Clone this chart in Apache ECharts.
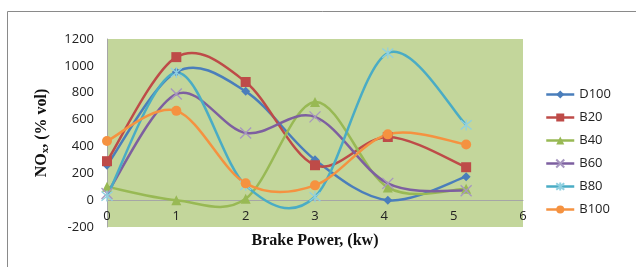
<!DOCTYPE html>
<html lang="en">
<head>
    <meta charset="UTF-8">
    <title>NOx vs Brake Power</title>
    <script src="https://cdn.jsdelivr.net/npm/echarts@6/dist/echarts.min.js" type="text/javascript"></script>
</head>
<body style="margin:0;background:#fff;">
<div id="nox_chart" style="width:636px;height:267px;"></div>
<script>
    // brake power (kw) for each load step
    var power = [0, 1, 2, 3, 4.05, 5.18];
    var seriesNames = ['D100', 'B20', 'B40', 'B60', 'B80', 'B100'];
    var d100 = [260, 955, 810, 300, 0, 175];
    var b20 = [290, 1065, 880, 260, 470, 245];
    var b40 = [100, 0, 10, 730, 95, 85];
    var b60 = [50, 790, 500, 620, 125, 70];
    var b80 = [30, 950, 110, 25, 1095, 560];
    var b100 = [440, 665, 125, 110, 490, 415];
    var xTicks = ['0', '1', '2', '3', '4', '5', '6'];

    var colors = ['#4a7ebb', '#be4b48', '#98b954', '#7d5fa0', '#4aacc5', '#f59240'];
    var markColors = ['#4a7ebb', '#be4b48', '#98b954', '#a796c0', '#8fd0e0', '#f59240'];
    var symbols = ['diamond', 'rect', 'triangle',
        'path://M0,0L10,10M10,0L0,10',
        'path://M0,0L10,10M10,0L0,10M5,-1L5,11',
        'circle'];
    var sizes = [9, 10, 10, 11, 11, 10];
    var allData = [d100, b20, b40, b60, b80, b100];

    function pairs(ys) {
        var out = [];
        for (var i = 0; i < power.length; i++) {
            out.push([power[i], ys[i]]);
        }
        return out;
    }

    // excel style smooth curve: one bezier segment per pair of points (catmull-rom)
    function curveRenderer(ys, color) {
        return function (params, api) {
            var i = params.dataIndex;
            var n = ys.length;
            if (i >= n - 1) return null;
            var p0 = api.coord([power[Math.max(i - 1, 0)], ys[Math.max(i - 1, 0)]]);
            var p1 = api.coord([power[i], ys[i]]);
            var p2 = api.coord([power[i + 1], ys[i + 1]]);
            var p3 = api.coord([power[Math.min(i + 2, n - 1)], ys[Math.min(i + 2, n - 1)]]);
            return {
                type: 'bezierCurve',
                shape: {
                    x1: p1[0], y1: p1[1], x2: p2[0], y2: p2[1],
                    cpx1: p1[0] + (p2[0] - p0[0]) / 6, cpy1: p1[1] + (p2[1] - p0[1]) / 6,
                    cpx2: p2[0] - (p3[0] - p1[0]) / 6, cpy2: p2[1] - (p3[1] - p1[1]) / 6
                },
                style: {stroke: color, lineWidth: 2.5, fill: null},
                silent: true
            };
        };
    }

    var series = [];
    var legendData = [];
    for (var k = 0; k < seriesNames.length; k++) {
        var stroke = k === 3 || k === 4;
        series.push({
            type: 'custom',
            renderItem: curveRenderer(allData[k], colors[k]),
            clip: true,
            z: 2,
            data: pairs(allData[k])
        });
        series.push({
            name: seriesNames[k],
            type: 'line',
            symbol: symbols[k],
            symbolSize: sizes[k],
            z: 3,
            lineStyle: {color: colors[k], width: 2.5, opacity: 0},
            itemStyle: {
                color: stroke ? markColors[k] : colors[k],
                borderColor: stroke ? markColors[k] : colors[k],
                borderWidth: stroke ? 1.3 : 0
            },
            data: pairs(allData[k])
        });
        legendData.push({
            name: seriesNames[k],
            lineStyle: {color: colors[k], width: 2.5, opacity: 1}
        });
    }

    var chart = echarts.init(document.getElementById('nox_chart'));
    chart.setOption({
        animation: false,
        graphic: [{
            type: 'rect',
            shape: {x: 7.5, y: 11.5, width: 700, height: 300},
            style: {fill: 'none', stroke: '#8a8a8a', lineWidth: 1},
            z: -10
        }],
        grid: {
            left: 107, right: 113, top: 39, bottom: 40,
            outerBoundsMode: 'none',
            containLabel: false,
            show: true, backgroundColor: '#c3d69b', borderWidth: 0
        },
        legend: {
            orient: 'vertical',
            left: 545, top: 88, padding: 0,
            itemWidth: 28, itemHeight: 10, itemGap: 10,
            textStyle: {fontFamily: 'Open Sans', fontSize: 13, color: '#222'},
            data: legendData
        },
        xAxis: {
            type: 'value',
            min: 0, max: 6, interval: 1,
            axisLine: {onZero: true, lineStyle: {color: '#a6a6a6', width: 1}},
            axisTick: {show: false},
            splitLine: {show: false},
            axisLabel: {
                margin: -17,
                fontFamily: 'Open Sans', fontSize: 13, color: '#222',
                formatter: function (v) { return xTicks[Math.round(v)]; }
            },
            name: 'Brake Power, (kw)',
            nameLocation: 'middle',
            nameGap: 6,
            nameMoveOverlap: false,
            nameTextStyle: {fontFamily: 'Liberation Serif', fontWeight: 'bold', fontSize: 16, color: '#111'}
        },
        yAxis: {
            type: 'value',
            min: -200, max: 1200, interval: 200,
            axisLine: {show: true, lineStyle: {color: '#a6a6a6', width: 1}},
            axisTick: {show: false},
            splitLine: {show: false},
            axisLabel: {
                margin: 13,
                fontFamily: 'Open Sans', fontSize: 13, color: '#222',
                formatter: function (v) { return String(v); }
            },
            name: '{n|NO}{s|x}{n|, (% vol)}',
            nameLocation: 'middle',
            nameGap: 56,
            nameMoveOverlap: false,
            nameTextStyle: {
                rich: {
                    n: {fontFamily: 'Liberation Serif', fontWeight: 'bold', fontSize: 16, color: '#111'},
                    s: {fontFamily: 'Liberation Serif', fontWeight: 'bold', fontSize: 11, color: '#111', verticalAlign: 'bottom', padding: [8, 0, 0, 0]}
                }
            }
        },
        series: series
    });
</script>
</body>
</html>
